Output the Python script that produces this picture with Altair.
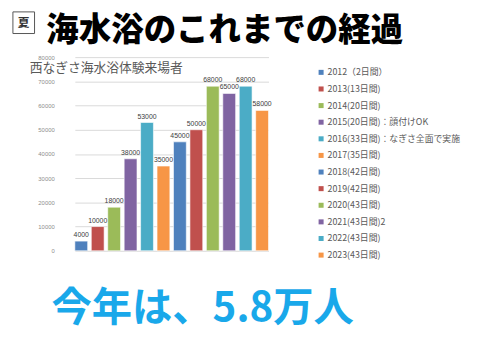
import altair as alt
import pandas as pd

labels = [
    "2012（2日間）",
    "2013(13日間)",
    "2014(20日間)",
    "2015(20日間)：顔付けOK",
    "2016(33日間)：なぎさ全面で実施",
    "2017(35日間)",
    "2018(42日間)",
    "2019(42日間)",
    "2020(43日間)",
    "2021(43日間)2",
    "2022(43日間)",
    "2023(43日間)",
]
values = [4000, 10000, 18000, 38000, 53000, 35000, 45000, 50000, 68000, 65000, 68000, 58000]
colors = ["#4F81BD", "#C0504D", "#9BBB59", "#8064A2", "#4BACC6", "#F79646",
          "#4F81BD", "#C0504D", "#9BBB59", "#8064A2", "#4BACC6", "#F79646"]
y_ticks = [0, 10000, 20000, 30000, 40000, 50000, 60000, 70000, 80000]

main_title = "海水浴のこれまでの経過"
season = "夏"
chart_title = "西なぎさ海水浴体験来場者"
footer = "今年は、5.8万人"

df = pd.DataFrame({"label": labels, "value": values})

W, H = 410, 197
JP = "Noto Sans CJK JP"

x_enc = alt.X("label:N", sort=labels, axis=None,
              scale=alt.Scale(range=[14, 211], paddingInner=0.22, paddingOuter=0))
y_axis = alt.Axis(values=y_ticks, tickCount=9, format="d", title=None, ticks=False,
                  domain=False, labelFontSize=6, labelColor="#8C8C8C",
                  labelPadding=7, gridColor="#D9D9D9", gridWidth=1,
                  labelOverlap=False, labelFont="Liberation Sans")
y_enc = alt.Y("value:Q", scale=alt.Scale(domain=[0, 80000], nice=False), axis=y_axis)

base = alt.Chart(df)

bars = base.mark_bar(stroke="white", strokeWidth=0.6).encode(
    x=x_enc,
    y=y_enc,
    color=alt.Color("label:N", sort=labels,
                    scale=alt.Scale(domain=labels, range=colors),
                    legend=alt.Legend(title=None, orient="none", legendX=260, legendY=11,
                                      symbolType="square", symbolSize=26,
                                      symbolStrokeWidth=0, labelFontSize=9,
                                      labelColor="#595959", labelFont=JP,
                                      rowPadding=6.9, labelOffset=2, padding=0,
                                      labelLimit=300)),
)

bar_labels = base.mark_text(baseline="bottom", dy=-3, fontSize=7, color="#404040",
                            font="Liberation Sans").encode(
    x=x_enc,
    y=alt.Y("value:Q", scale=alt.Scale(domain=[0, 80000], nice=False), axis=y_axis),
    text=alt.Text("value:Q", format="d"),
)

def txt(s, x, y, size, color, weight="normal", align="left", font=JP):
    return alt.Chart(pd.DataFrame({"t": [s]})).mark_text(
        align=align, baseline="middle", fontSize=size, color=color,
        fontWeight=weight, font=font
    ).encode(text="t:N", x=alt.value(x), y=alt.value(y))

box = alt.Chart(pd.DataFrame({"t": [season]})).mark_rect(
    fill="white", stroke="#555555", strokeWidth=1
).encode(x=alt.value(-49), x2=alt.value(-27), y=alt.value(-46), y2=alt.value(-24))

layers = alt.layer(
    bars,
    bar_labels,
    box,
    txt(season, -38, -35, 12, "#333333", weight="bold", align="center"),
    txt(main_title, -15, -26, 33, "#000000", weight=900),
    txt(chart_title, -32, 11, 13, "#595959"),
    txt(footer, 144, 256, 41, "#19A8EA", weight="bold", align="center"),
).properties(
    width=W, height=H,
    autosize=alt.AutoSizeParams(type="none"),
    padding={"left": 54, "top": 47, "right": 8, "bottom": 100},
).configure_view(stroke=None)

layers.save("out.html", embed_options={"renderer": "svg", "actions": False})
